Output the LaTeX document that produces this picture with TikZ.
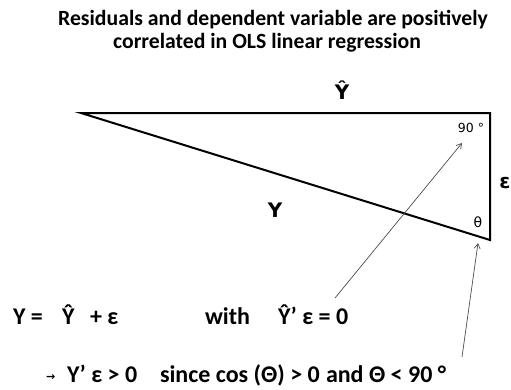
\documentclass[tikz,border=0pt]{standalone}
\usepackage{fontspec}
\setmainfont{Carlito}
\newfontfamily\dejavu{DejaVu Sans}
\usetikzlibrary{arrows.meta}
\begin{document}
\begin{tikzpicture}[x=1pt,y=-1pt,
  ttl/.style={inner sep=0pt,outer sep=0pt,anchor=base,font=\fontsize{21.7}{26}\selectfont\bfseries},
  txt/.style={inner sep=0pt,outer sep=0pt,anchor=base west,font=\fontsize{24}{28}\selectfont\bfseries},
  lbl/.style={inner sep=0pt,font=\dejavu\bfseries\fontsize{20}{24}\selectfont},
  ang/.style={inner sep=0pt,font=\dejavu\fontsize{12.5}{15}\selectfont},
  tri/.style={line width=2pt,line join=miter},
  ptr/.style={draw=black!70,line width=0.7pt,-{Straight Barb[length=5pt,width=6pt]}}]
\useasboundingbox (0,0) rectangle (511,389);
% title
\node[ttl] (t1) at (273,25) {Residuals and dependent variable are positively};
\node[ttl] (t2) at (267,48) {correlated in OLS linear regression};
% triangle
\coordinate (A) at (81,113);
\coordinate (B) at (490,113);
\coordinate (C) at (490,240);
\draw[tri] (A) -- (B) -- (C) -- cycle;
\node[lbl] (yhat) at (342,90) {Ŷ};
\node[lbl] (y) at (275,210) {Y};
\node[lbl] (eps) at (505,183) {ε};
\node[ang] (right) at (471,128) {90 °};
\node[ang,font=\dejavu\fontsize{14}{16}\selectfont] (theta) at (478,222) {θ};
% equations
\node[txt] (e1) at (13,324) {Y =};
\node[txt] (e2) at (62,324) {Ŷ};
\node[txt] (e3) at (90,324) {+ ε};
\node[txt] (e4) at (205,324) {with};
\node[txt] (e5) at (278,324) {Ŷ’ ε = 0};
\node[inner sep=0pt,anchor=base west,font=\dejavu\bfseries\fontsize{11}{13}\selectfont] (b0) at (46,380) {→};
\node[txt] (b1) at (67,382) {Y’ ε > 0};
\node[txt] (b2) at (160,382) {since cos (Θ) > 0};
\node[txt] (b3) at (326,382) {and Θ < 90 °};
% pointers
\coordinate (s1) at (335,298);
\coordinate (p1) at (462,143);
\coordinate (s2) at (462,357);
\coordinate (p2) at (478,243);
\draw[ptr] (s1) -- (p1);
\draw[ptr] (s2) -- (p2);
\end{tikzpicture}
\end{document}
